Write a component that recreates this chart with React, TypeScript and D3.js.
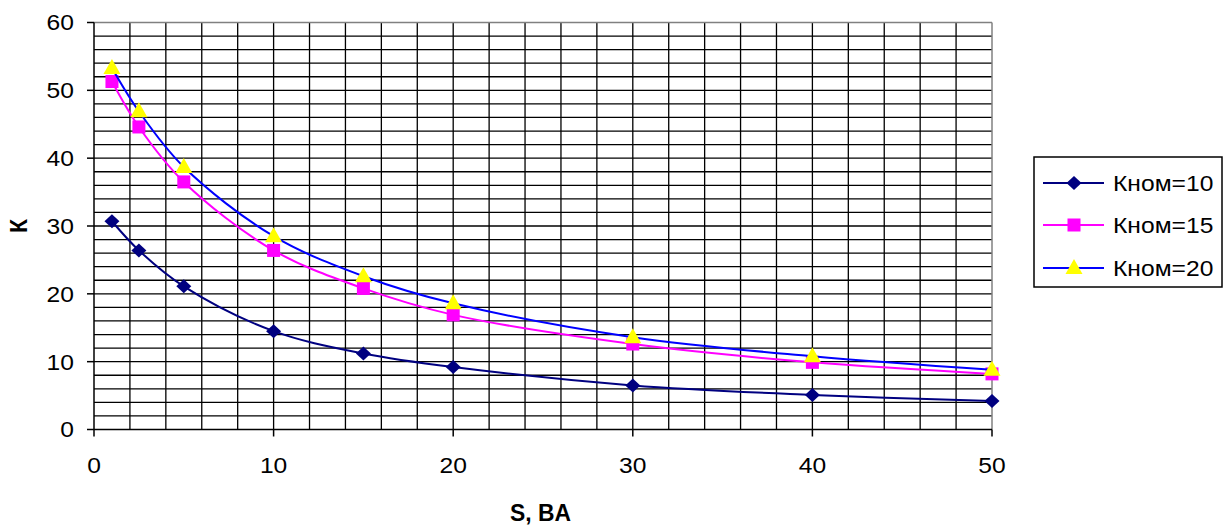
import React from "react";
import * as d3 from "d3";

const sValues = [1, 2.5, 5, 10, 15, 20, 30, 40, 50];
const k10 = [30.7, 26.4, 21.1, 14.5, 11.2, 9.2, 6.5, 5.1, 4.2];
const k15 = [51.3, 44.6, 36.5, 26.4, 20.8, 16.9, 12.6, 9.9, 8.2];
const k20 = [53.3, 46.9, 38.7, 28.5, 22.6, 18.6, 13.6, 10.8, 8.8];
const seriesNames = ["Кном=10", "Кном=15", "Кном=20"];
const xTicks = [0, 10, 20, 30, 40, 50];
const yTicks = [0, 10, 20, 30, 40, 50, 60];
const xTitle = "S, BA";
const yTitle = "К";

const W = 1230;
const H = 526;
const FONT = "'Liberation Sans', Arial, sans-serif";
const SX = 1.12;

function SText(props: {
  x: number;
  y: number;
  anchor?: "start" | "middle" | "end";
  size?: number;
  bold?: boolean;
  dy?: string;
  children: any;
}) {
  const { x, y, anchor = "start", size = 22, bold = false, dy, children } = props;
  return (
    <text
      transform={`translate(${x},${y}) scale(${SX},1)`}
      textAnchor={anchor}
      fontSize={size}
      fontWeight={bold ? "bold" : "normal"}
      dy={dy}
      fill="#000"
    >
      {children}
    </text>
  );
}

export default function App() {
  const x = d3.scaleLinear().domain([0, 50]).range([94, 992]);
  const y = d3.scaleLinear().domain([0, 60]).range([429.5, 22.5]);
  const line = d3
    .line<number>()
    .x((_, i) => x(sValues[i]))
    .y((d) => y(d))
    .curve(d3.curveCatmullRom.alpha(0.5));

  const gridX = d3.range(2, 50, 2);
  const gridY = d3.range(2, 60, 2);

  const series = [
    { name: seriesNames[0], data: k10, color: "#000080", marker: "diamond", fill: "#000080" },
    { name: seriesNames[1], data: k15, color: "#FF00FF", marker: "square", fill: "#FF00FF" },
    { name: seriesNames[2], data: k20, color: "#0000FF", marker: "triangle", fill: "#FFFF00" },
  ];

  const marker = (type: string, cx: number, cy: number, fill: string, key: any) => {
    if (type === "diamond") {
      const p = `M${cx},${cy - 7} L${cx + 7.5},${cy} L${cx},${cy + 7} L${cx - 7.5},${cy} Z`;
      return <path key={key} d={p} fill={fill} />;
    }
    if (type === "square") {
      return <rect key={key} x={cx - 6.5} y={cy - 6.5} width={13} height={13} fill={fill} />;
    }
    const p = `M${cx},${cy - 9} L${cx + 8.5},${cy + 6} L${cx - 8.5},${cy + 6} Z`;
    return <path key={key} d={p} fill={fill} />;
  };

  const legX = 1034;
  const legY = 157;
  const legRows = [183, 225, 268];

  return (
    <svg
      width={W}
      height={H}
      style={{ position: "absolute", left: 0, top: 0, background: "#fff" }}
      fontFamily={FONT}
    >
      <rect x={0} y={0} width={W} height={H} fill="#fff" />
      {/* grid */}
      {gridY.map((v) => (
        <line key={"gy" + v} x1={x(0)} x2={x(50)} y1={y(v)} y2={y(v)} stroke="#000" strokeWidth={1.3} />
      ))}
      {gridX.map((v) => (
        <line key={"gx" + v} x1={x(v)} x2={x(v)} y1={y(0)} y2={y(60)} stroke="#000" strokeWidth={1.3} />
      ))}
      {/* border top/right gray */}
      <line x1={x(0)} x2={x(50)} y1={y(60)} y2={y(60)} stroke="#808080" strokeWidth={1.5} />
      <line x1={x(50)} x2={x(50)} y1={y(0)} y2={y(60)} stroke="#808080" strokeWidth={1.5} />
      {/* axes */}
      <line x1={x(0)} x2={x(0)} y1={y(0)} y2={y(60)} stroke="#000" strokeWidth={1.5} />
      <line x1={x(0)} x2={x(50)} y1={y(0)} y2={y(0)} stroke="#000" strokeWidth={1.5} />
      {yTicks.map((v) => (
        <g key={"yt" + v}>
          <line x1={x(0) - 7} x2={x(0)} y1={y(v)} y2={y(v)} stroke="#000" strokeWidth={1.5} />
          <SText x={74} y={y(v)} dy="0.36em" anchor="end">
            {v}
          </SText>
        </g>
      ))}
      {xTicks.map((v) => (
        <g key={"xt" + v}>
          <line x1={x(v)} x2={x(v)} y1={y(0)} y2={y(0) + 7} stroke="#000" strokeWidth={1.5} />
          <SText x={x(v)} y={473} anchor="middle">
            {v}
          </SText>
        </g>
      ))}
      <text
        x={540.5}
        y={521}
        textAnchor="middle"
        fontSize={23}
        fontWeight="bold"
        textLength={61}
        lengthAdjust="spacingAndGlyphs"
      >
        {xTitle}
      </text>
      <text transform={`translate(27,226) rotate(-90)`} textAnchor="middle" fontSize={23} fontWeight="bold">
        {yTitle}
      </text>
      {/* series */}
      {series.map((s) => (
        <g key={s.name}>
          <path d={line(s.data) || ""} fill="none" stroke={s.color} strokeWidth={2} />
          {s.data.map((d, i) => marker(s.marker, x(sValues[i]), y(d), s.fill, i))}
        </g>
      ))}
      {/* legend */}
      <rect x={legX} y={legY} width={188} height={130} fill="#fff" stroke="#000" strokeWidth={1.5} />
      {series.map((s, i) => (
        <g key={"lg" + i}>
          <line x1={1043} x2={1104} y1={legRows[i]} y2={legRows[i]} stroke={s.color} strokeWidth={2} />
          {marker(s.marker, 1074, legRows[i], s.fill, "m")}
          <SText x={1113} y={legRows[i]} dy="0.36em">
            {s.name}
          </SText>
        </g>
      ))}
    </svg>
  );
}
